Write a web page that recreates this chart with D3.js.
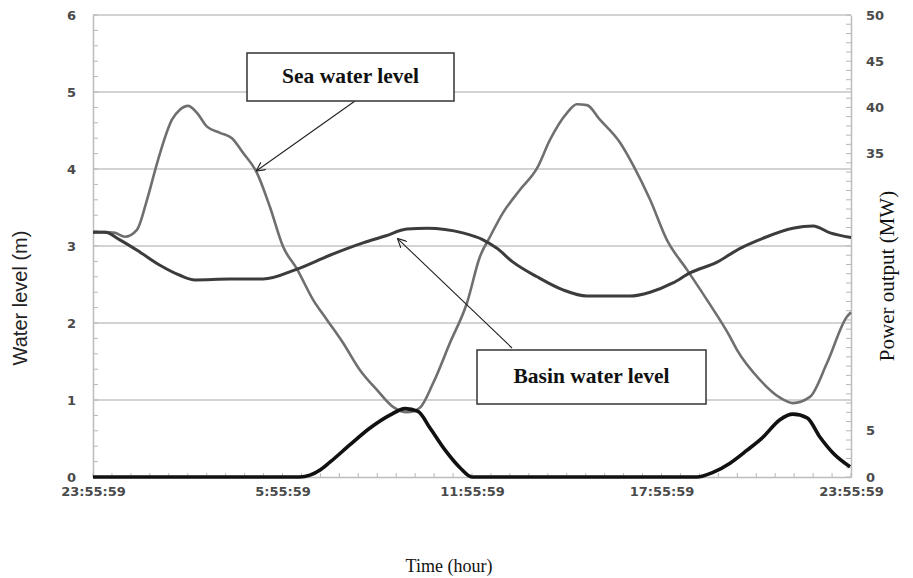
<!DOCTYPE html>
<html>
<head>
<meta charset="utf-8">
<script src="https://cdn.jsdelivr.net/npm/d3@7"></script>
<style>
  html, body { margin: 0; padding: 0; background: #fff; }
  svg { display: block; }
</style>
</head>
<body>
<svg id="chart" width="913" height="578"></svg>
<script>
// ---- Data (hours since 23:55:59) ----
const seaHours = [0,0.38,0.70,1.01,1.39,1.71,2.06,2.50,2.75,3.01,3.29,3.61,4.02,4.40,4.75,5.19,5.60,6.02,6.46,6.97,7.41,7.92,8.45,8.99,9.50,9.94,10.35,10.77,11.30,11.84,12.25,12.57,12.98,13.52,14.06,14.47,15.01,15.32,15.64,16.05,16.69,17.10,17.64,18.17,18.81,19.44,20.17,20.39,21.12,21.75,22.16,22.70,23.24,23.87,24];
const seaLevel = [3.18,3.18,3.17,3.12,3.21,3.60,4.12,4.64,4.77,4.82,4.73,4.55,4.47,4.40,4.21,3.95,3.51,2.99,2.70,2.30,2.04,1.74,1.39,1.13,0.91,0.84,0.90,1.22,1.74,2.26,2.86,3.12,3.43,3.73,4.01,4.38,4.73,4.84,4.83,4.64,4.34,4.05,3.60,3.08,2.69,2.30,1.82,1.65,1.26,1.03,0.96,1.04,1.48,2.08,2.14];

const basinHours = [0,0.38,0.85,1.49,2.12,2.75,3.23,4.34,5.38,6.46,7.50,8.55,9.25,9.94,10.58,11.71,12.35,12.79,13.30,14.06,14.88,15.64,17.00,17.64,18.36,18.90,19.76,20.49,21.21,22.16,22.80,23.34,24];
const basinLevel = [3.18,3.18,3.08,2.92,2.75,2.62,2.56,2.57,2.57,2.70,2.88,3.04,3.13,3.22,3.23,3.17,3.08,2.97,2.79,2.60,2.43,2.35,2.35,2.40,2.52,2.65,2.79,2.97,3.10,3.23,3.26,3.17,3.11];

const powerHours = [0,6.55,6.87,7.19,7.50,8.14,8.77,9.40,9.88,10.29,10.67,11.15,11.62,12.0,19.12,19.63,20.17,20.71,21.21,21.75,22.16,22.61,23.02,23.43,23.97];
const powerMW = [0,0,0.2,0.76,1.6,3.5,5.3,6.7,7.4,7.1,5.3,2.9,1.0,0,0,0.5,1.5,2.9,4.3,6.2,6.8,6.4,4.3,2.6,1.1];

const xTickHours = [0,6,12,18,24];
const xTickLabels = ["23:55:59","5:55:59","11:55:59","17:55:59","23:55:59"];
const leftTicks = [0,1,2,3,4,5,6];
const rightTicks = [0,5,35,40,45,50];

const xTitle = "Time (hour)";
const yLeftTitle = "Water level (m)";
const yRightTitle = "Power output (MW)";
const seaLabel = "Sea water level";
const basinLabel = "Basin water level";

// ---- Layout ----
const svg = d3.select("#chart");
const L = 93, R = 851, T = 15, B = 477;

const x = d3.scaleLinear().domain([0,24]).range([L,R]);
const yL = d3.scaleLinear().domain([0,6]).range([B,T]);
const yR = d3.scaleLinear().domain([0,50]).range([B,T]);

// gridlines
svg.append("g").selectAll("line").data(leftTicks.filter(d => d > 0)).join("line")
  .attr("x1", L).attr("x2", R)
  .attr("y1", d => yL(d)).attr("y2", d => yL(d))
  .attr("stroke", "#c4c4c4").attr("stroke-width", 1.6);

const tickFont = sel => sel.attr("font-family", "DejaVu Sans").attr("font-weight", "bold")
  .attr("font-size", 13).attr("fill", "#4a4a4a");

// left axis
const leftAxis = d3.axisLeft(yL).tickValues(leftTicks).tickSize(0).tickPadding(17)
  .tickFormat(d3.format("d"));
const gL = svg.append("g").attr("transform", `translate(${L},0)`).call(leftAxis);
gL.select(".domain").attr("stroke", "#bdbdbd").attr("stroke-width", 1.5);
gL.selectAll("text").call(tickFont);
svg.append("g").selectAll("line").data(d3.range(0, 6.001, 0.2)).join("line")
  .attr("x1", L).attr("x2", L + 5)
  .attr("y1", d => yL(d)).attr("y2", d => yL(d))
  .attr("stroke", "#b8b8b8").attr("stroke-width", 1);

// right axis
const rightAxis = d3.axisRight(yR).tickValues(rightTicks).tickSize(0).tickPadding(15)
  .tickFormat(d3.format("d"));
const gR = svg.append("g").attr("transform", `translate(${R},0)`).call(rightAxis);
gR.select(".domain").attr("stroke", "#bdbdbd").attr("stroke-width", 1.5);
gR.selectAll("text").call(tickFont);
svg.append("g").selectAll("line").data(d3.range(0, 51, 1)).join("line")
  .attr("x1", R - 5).attr("x2", R)
  .attr("y1", d => yR(d)).attr("y2", d => yR(d))
  .attr("stroke", "#b8b8b8").attr("stroke-width", 1);

// bottom axis
const bottomAxis = d3.axisBottom(x).tickValues(xTickHours).tickSize(0).tickPadding(10)
  .tickFormat((d, i) => xTickLabels[i]);
const gB = svg.append("g").attr("transform", `translate(0,${B})`).call(bottomAxis);
gB.select(".domain").attr("stroke", "#bdbdbd").attr("stroke-width", 1.5);
gB.selectAll("text").call(tickFont);
svg.append("g").selectAll("line").data(d3.range(0, 24.001, 0.6)).join("line")
  .attr("x1", d => x(d)).attr("x2", d => x(d))
  .attr("y1", B).attr("y2", B - 4)
  .attr("stroke", "#b8b8b8").attr("stroke-width", 1);

// lines
const lineL = (hs) => d3.line().x((d, i) => x(hs[i])).y(d => yL(d)).curve(d3.curveMonotoneX);
const lineR = (hs) => d3.line().x((d, i) => x(hs[i])).y(d => yR(d)).curve(d3.curveMonotoneX);

svg.append("path").datum(seaLevel).attr("d", lineL(seaHours))
  .attr("fill", "none").attr("stroke", "#6f6f6f").attr("stroke-width", 2.6)
  .attr("stroke-linejoin", "round");
svg.append("path").datum(basinLevel).attr("d", lineL(basinHours))
  .attr("fill", "none").attr("stroke", "#3c3c3c").attr("stroke-width", 3)
  .attr("stroke-linejoin", "round");
svg.append("path").datum(powerMW).attr("d", lineR(powerHours))
  .attr("fill", "none").attr("stroke", "#111").attr("stroke-width", 3.6)
  .attr("stroke-linejoin", "round");

// arrow marker
svg.append("defs").append("marker")
  .attr("id", "arr").attr("viewBox", "0 0 10 10").attr("refX", 9).attr("refY", 5)
  .attr("markerWidth", 9).attr("markerHeight", 9).attr("orient", "auto-start-reverse")
  .attr("markerUnits", "userSpaceOnUse")
  .append("path").attr("d", "M0,0 L10,5 L0,10").attr("fill", "none")
  .attr("stroke", "#222").attr("stroke-width", 1.3);

// annotations
function callout(bx, by, bw, bh, label, fromX, fromY, tipH, tipV) {
  svg.append("line").attr("x1", fromX).attr("y1", fromY)
    .attr("x2", x(tipH)).attr("y2", yL(tipV))
    .attr("stroke", "#222").attr("stroke-width", 1.1).attr("marker-end", "url(#arr)");
  svg.append("rect").attr("x", bx).attr("y", by).attr("width", bw).attr("height", bh)
    .attr("fill", "#fff").attr("stroke", "#333").attr("stroke-width", 1.5);
  svg.append("text").attr("x", bx + bw / 2).attr("y", by + bh / 2 + 1)
    .attr("text-anchor", "middle").attr("dominant-baseline", "middle")
    .attr("font-family", "Liberation Serif").attr("font-weight", "bold")
    .attr("font-size", 21.5).attr("fill", "#111").text(label);
}
callout(247, 53, 207, 48, seaLabel, 355, 101, 5.19, 3.98);
callout(477, 350, 229, 54, basinLabel, 512, 348, 9.66, 3.09);

// axis titles
svg.append("text").attr("x", 449).attr("y", 572).attr("text-anchor", "middle")
  .attr("font-family", "Liberation Serif").attr("font-size", 18).attr("fill", "#111")
  .text(xTitle);
svg.append("text").attr("transform", "translate(27,298) rotate(-90)").attr("text-anchor", "middle")
  .attr("font-family", "Liberation Sans").attr("font-size", 20).attr("fill", "#222")
  .text(yLeftTitle);
svg.append("text").attr("transform", "translate(894,276) rotate(-90)").attr("text-anchor", "middle")
  .attr("font-family", "Liberation Serif").attr("font-size", 21).attr("fill", "#111")
  .text(yRightTitle);
</script>
</body>
</html>
